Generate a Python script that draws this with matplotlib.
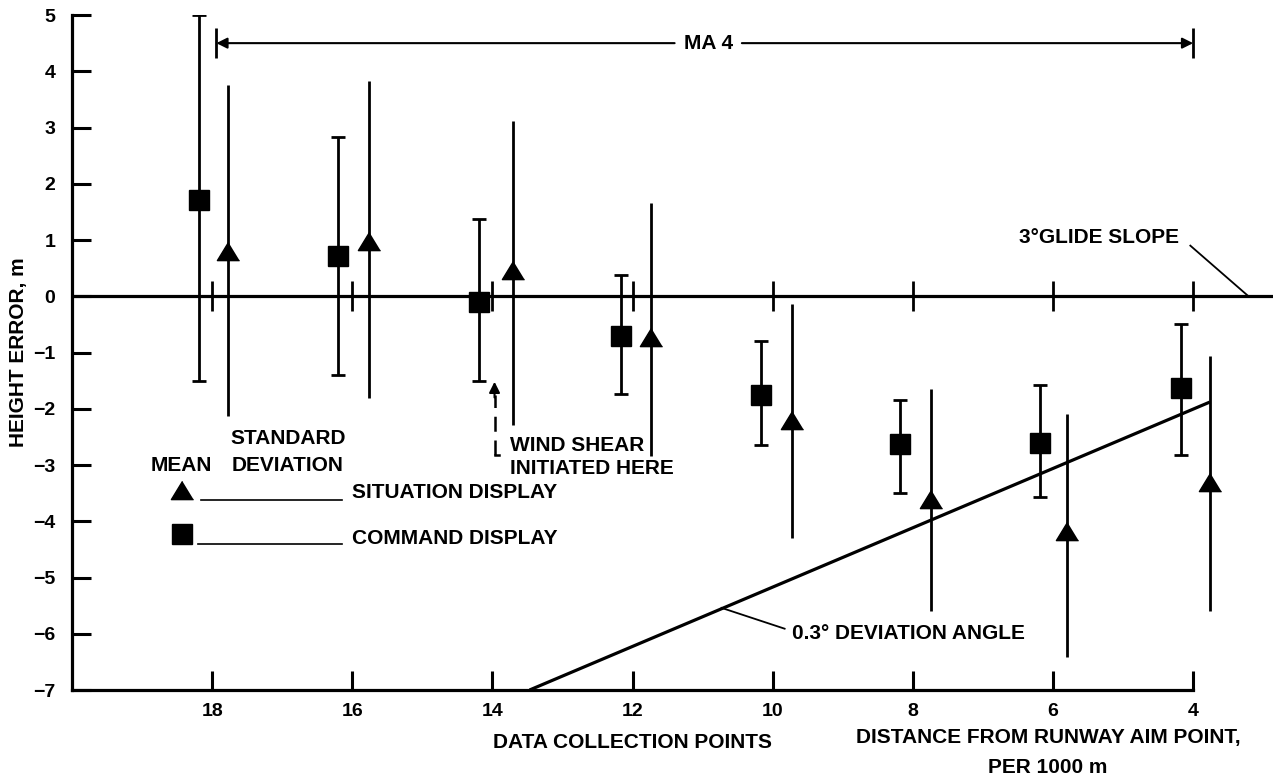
import numpy as np
import matplotlib
matplotlib.use("Agg")
from matplotlib import pyplot as plt

plt.rcParams['font.family'] = ['Liberation Sans', 'DejaVu Sans']
plt.rcParams['font.weight'] = 'bold'

# Command display (squares, with capped std-dev bars)
cmd_x = [18.19, 16.20, 14.19, 12.17, 10.17, 8.19, 6.18, 4.17]
cmd_mean = [1.72, 0.71, -0.10, -0.71, -1.75, -2.63, -2.60, -1.63]
cmd_hi = [5.00, 2.83, 1.38, 0.37, -0.79, -1.84, -1.57, -0.50]
cmd_lo = [-1.50, -1.40, -1.50, -1.73, -2.64, -3.50, -3.57, -2.82]

# Situation display (triangles, plain std-dev lines)
sit_x = [17.77, 15.76, 13.70, 11.73, 9.73, 7.74, 5.80, 3.76]
sit_mean = [0.81, 0.99, 0.46, -0.73, -2.20, -3.60, -4.18, -3.30]
sit_hi = [3.76, 3.83, 3.11, 1.66, -0.14, -1.64, -2.10, -1.07]
sit_lo = [-2.13, -1.81, -2.29, -2.84, -4.29, -5.60, -6.42, -5.60]

# 0.3 deg deviation line end points
dev_x = [13.47, 3.76]
dev_y = [-7.0, -1.88]

x_ticks = [18, 16, 14, 12, 10, 8, 6, 4]
y_ticks = list(range(-7, 6))

fig = plt.figure(figsize=(12.8, 7.78), dpi=100)
ax = fig.add_axes([0.05625, 0.1131, 0.9383, 0.8676])
ax.set_xlim(20, 2.86)
ax.set_ylim(-7, 5)

lw = 2.0
k = 'black'

# glide slope (zero line) with its little cross ticks
ax.plot([20, 2.86], [0, 0], color=k, lw=2.3, solid_capstyle='butt', zorder=2)
ax.vlines(x_ticks, -0.27, 0.27, color=k, lw=lw, zorder=2)

# deviation angle line
ax.plot(dev_x, dev_y, color=k, lw=2.3, solid_capstyle='butt', zorder=2)

cmd = np.array(cmd_mean)
sit = np.array(sit_mean)
ax.errorbar(cmd_x, cmd, yerr=[cmd - np.array(cmd_lo), np.array(cmd_hi) - cmd],
            fmt='s', ms=14.5, color=k, ecolor=k, elinewidth=lw, capsize=5.3,
            capthick=lw, zorder=3)
tri = [(0, 0.82), (-1, -0.82), (1, -0.82)]
ax.errorbar(sit_x, sit, yerr=[sit - np.array(sit_lo), np.array(sit_hi) - sit],
            fmt='none', ecolor=k, elinewidth=lw, capsize=0, zorder=3)
ax.plot(sit_x, sit, ls='none', marker=tri, ms=16, color=k, zorder=4)

# axes styling
for s in ['top', 'right']:
    ax.spines[s].set_visible(False)
ax.spines['left'].set_linewidth(2.3)
ax.spines['bottom'].set_linewidth(2.3)
ax.spines['bottom'].set_bounds(4, 20)
ax.set_xticks(x_ticks)
ax.set_yticks(y_ticks)
ax.tick_params(direction='in', length=14, width=2.2, labelsize=14, pad=9)
ax.tick_params(axis='y', pad=12)

fs = 15
ax.set_ylabel('HEIGHT ERROR, m', fontsize=fs, fontweight='bold')
ax.yaxis.set_label_coords(-0.0366, 0.5)

ax.text(12.0, -7.94, 'DATA COLLECTION POINTS', fontsize=fs, ha='center', va='center', clip_on=False)
ax.text(6.07, -7.85, 'DISTANCE FROM RUNWAY AIM POINT,', fontsize=fs, ha='center', va='center', clip_on=False)
ax.text(6.07, -8.37, 'PER 1000 m', fontsize=fs, ha='center', va='center', clip_on=False)

# MA 4 bracket
ax.vlines([17.94, 4.0], 4.23, 4.77, color=k, lw=lw)
arr = dict(arrowstyle='-|>', color=k, lw=1.5, mutation_scale=16, shrinkA=0, shrinkB=0)
ax.annotate('', xy=(17.94, 4.5), xytext=(11.4, 4.5), arrowprops=arr)
ax.annotate('', xy=(4.0, 4.5), xytext=(10.44, 4.5), arrowprops=arr)
ax.text(10.92, 4.5, 'MA 4', fontsize=fs, ha='center', va='center')

# glide slope label
ax.text(5.34, 1.05, '3\u00b0GLIDE SLOPE', fontsize=fs, ha='center', va='center')
ax.plot([4.04, 3.21], [0.9, 0.0], color=k, lw=1.3)

# deviation angle label
ax.plot([10.73, 9.83], [-5.54, -5.91], color=k, lw=1.3)
ax.text(9.72, -6.0, '0.3\u00b0 DEVIATION ANGLE', fontsize=fs, ha='left', va='center')

# wind shear marker
ax.plot([13.97, 13.97], [-2.83, -1.75], color=k, lw=1.8, dashes=(6, 3.5))
ax.plot([13.97, 13.91], [-2.83, -2.83], color=k, lw=1.8)
ax.annotate('', xy=(13.97, -1.52), xytext=(13.97, -1.8),
            arrowprops=dict(arrowstyle='-|>', color=k, lw=1.5, mutation_scale=16,
                            shrinkA=0, shrinkB=0))
ax.text(13.75, -2.65, 'WIND SHEAR', fontsize=fs, ha='left', va='center')
ax.text(13.75, -3.07, 'INITIATED HERE', fontsize=fs, ha='left', va='center')

# key
ax.text(16.92, -2.53, 'STANDARD', fontsize=fs, ha='center', va='center')
ax.text(16.92, -3.0, 'DEVIATION', fontsize=fs, ha='center', va='center')
ax.text(18.44, -3.0, 'MEAN', fontsize=fs, ha='center', va='center')
ax.plot([18.43], [-3.44], ls='none', marker=tri, ms=16, color=k)
ax.plot([18.16, 16.15], [-3.62, -3.62], color=k, lw=1.2)
ax.text(16.0, -3.49, 'SITUATION DISPLAY', fontsize=fs, ha='left', va='center')
ax.plot([18.43], [-4.22], ls='none', marker='s', ms=14.5, color=k)
ax.plot([18.2, 16.15], [-4.40, -4.40], color=k, lw=1.2)
ax.text(16.0, -4.30, 'COMMAND DISPLAY', fontsize=fs, ha='left', va='center')

fig.savefig('out.png', dpi=100)
